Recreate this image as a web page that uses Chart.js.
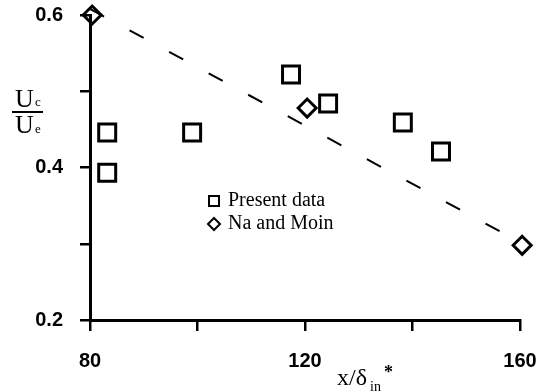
<!DOCTYPE html>
<html>
<head>
<meta charset="utf-8">
<script src="https://cdn.jsdelivr.net/npm/chart.js@4/dist/chart.umd.min.js"></script>
<style>
  html, body { margin: 0; padding: 0; background: #fff; }
</style>
</head>
<body>
<canvas id="chart" width="545" height="392"></canvas>
<script>
// data
const presentX = [83.2, 83.2, 99.0, 117.4, 124.3, 138.2, 145.3];
const presentY = [0.446, 0.393, 0.446, 0.522, 0.484, 0.459, 0.421];
const naMoinX = [80.4, 120.4, 160.4];
const naMoinY = [0.600, 0.478, 0.298];
const fitX = [80, 160];
const fitY = [0.608, 0.302];

const xTicks = [80, 100, 120, 140, 160];
const xLabels = ['80', '', '120', '', '160'];
const yTicks = [0.2, 0.3, 0.4, 0.5, 0.6];
const yLabels = ['0.2', '', '0.4', '', '0.6'];

const legendNames = ['Present data', 'Na and Moin'];

const toPoints = (xs, ys) => xs.map((x, i) => ({ x: x, y: ys[i] }));

const tickFont = { family: "'Liberation Sans', Arial, sans-serif", size: 20, weight: 'bold' };
const serif = "'Liberation Serif', 'Times New Roman', serif";

// titles + legend are drawn by hand, like the scanned figure
const annotations = {
  id: 'annotations',
  afterDraw(chart) {
    const ctx = chart.ctx;
    ctx.save();
    ctx.fillStyle = '#000';
    ctx.strokeStyle = '#000';

    // y title: Uc / Ue
    ctx.textBaseline = 'alphabetic';
    ctx.textAlign = 'left';
    ctx.font = '26px ' + serif;
    ctx.fillText('U', 15, 107);
    ctx.fillText('U', 15, 133);
    ctx.font = '13px ' + serif;
    ctx.fillText('c', 35, 106);
    ctx.fillText('e', 35, 133);
    ctx.lineWidth = 2;
    ctx.beginPath();
    ctx.moveTo(12, 112);
    ctx.lineTo(43, 112);
    ctx.stroke();

    // x title: x/δin*
    ctx.font = '24px ' + serif;
    ctx.fillText('x/\u03b4', 337, 385);
    ctx.font = '14px ' + serif;
    ctx.fillText('in', 370, 391);
    ctx.font = 'bold 18px ' + serif;
    ctx.fillText('*', 384, 378);

    // legend
    ctx.lineWidth = 2;
    ctx.strokeRect(209, 196, 10, 10);
    ctx.beginPath();
    ctx.moveTo(214, 218);
    ctx.lineTo(220, 224);
    ctx.lineTo(214, 230);
    ctx.lineTo(208, 224);
    ctx.closePath();
    ctx.stroke();
    ctx.font = '20px ' + serif;
    ctx.textBaseline = 'middle';
    ctx.fillText(legendNames[0], 228, 201);
    ctx.fillText(legendNames[1], 228, 224);
    ctx.restore();
  }
};

new Chart(document.getElementById('chart'), {
  type: 'scatter',
  data: {
    datasets: [
      {
        label: 'fit',
        type: 'line',
        data: toPoints(fitX, fitY),
        borderColor: '#000',
        borderWidth: 2,
        borderDash: [16, 29],
        pointRadius: 0,
        fill: false,
        clip: false
      },
      {
        label: legendNames[0],
        data: toPoints(presentX, presentY),
        pointStyle: 'rect',
        pointRadius: 12,
        borderColor: '#000',
        backgroundColor: 'rgba(0,0,0,0)',
        borderWidth: 3,
        clip: false
      },
      {
        label: legendNames[1],
        data: toPoints(naMoinX, naMoinY),
        pointStyle: 'rectRot',
        pointRadius: 9,
        borderColor: '#000',
        backgroundColor: 'rgba(0,0,0,0)',
        borderWidth: 3,
        clip: false
      }
    ]
  },
  options: {
    responsive: false,
    devicePixelRatio: 1,
    animation: false,
    layout: { padding: { left: 0, right: 25, top: 14, bottom: 0 } },
    plugins: {
      legend: { display: false },
      tooltip: { enabled: false }
    },
    scales: {
      x: {
        type: 'linear',
        min: 80,
        max: 160,
        afterBuildTicks: s => { s.ticks = xTicks.map(v => ({ value: v })); },
        afterFit: s => { s.height = 72; s.paddingLeft = 0; s.paddingRight = 0; },
        border: { color: '#000', width: 3 },
        grid: { drawOnChartArea: false, drawTicks: true, tickLength: 11, lineWidth: 2.5, color: '#000' },
        ticks: {
          color: '#000',
          font: tickFont,
          padding: 18,
          maxRotation: 0,
          autoSkip: false,
          callback: (v, i) => xLabels[i]
        }
      },
      y: {
        type: 'linear',
        min: 0.2,
        max: 0.6,
        afterBuildTicks: s => { s.ticks = yTicks.map(v => ({ value: v })); },
        afterFit: s => { s.width = 90; s.paddingTop = 0; s.paddingBottom = 0; },
        border: { color: '#000', width: 3 },
        grid: { drawOnChartArea: false, drawTicks: true, tickLength: 10, lineWidth: 2.5, color: '#000' },
        ticks: {
          color: '#000',
          font: tickFont,
          padding: 17,
          autoSkip: false,
          callback: (v, i) => yLabels[i]
        }
      }
    }
  },
  plugins: [annotations]
});
</script>
</body>
</html>
